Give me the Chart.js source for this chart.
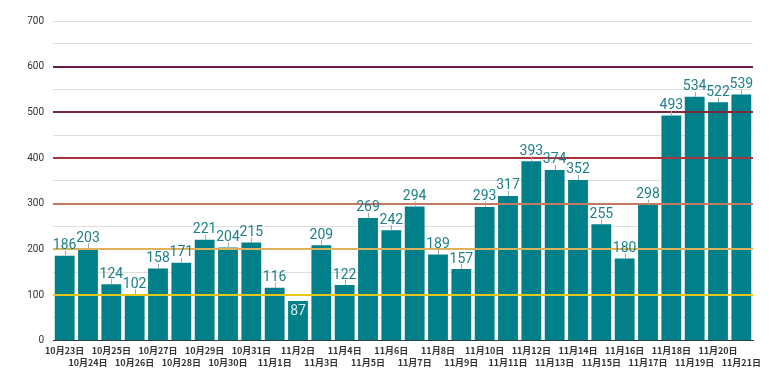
<!DOCTYPE html>
<html>
<head>
<meta charset="utf-8">
<script src="https://cdn.jsdelivr.net/npm/chart.js@4/dist/chart.umd.min.js"></script>
<style>
  html, body { margin: 0; padding: 0; background: #fff; }
  #wrap { width: 780px; height: 390px; }
</style>
</head>
<body>
<div id="wrap"><canvas id="chart"></canvas></div>
<script>
// days shown on the x axis
var days = [
  '10月23日', '10月24日', '10月25日', '10月26日', '10月27日', '10月28日',
  '10月29日', '10月30日', '10月31日', '11月1日', '11月2日', '11月3日',
  '11月4日', '11月5日', '11月6日', '11月7日', '11月8日', '11月9日',
  '11月10日', '11月11日', '11月12日', '11月13日', '11月14日', '11月15日',
  '11月16日', '11月17日', '11月18日', '11月19日', '11月20日', '11月21日'
];
var counts = [
  186, 203, 124, 102, 158, 171,
  221, 204, 215, 116, 87, 209,
  122, 269, 242, 294, 189, 157,
  293, 317, 393, 374, 352, 255,
  180, 298, 493, 534, 522, 539
];
var yTicks = [0, 100, 200, 300, 400, 500, 600, 700];
var levels = [100, 200, 300, 400, 500, 600];
var levelColors = ['#e3c51e', '#ddb25a', '#c47a62', '#a8343f', '#7c2838', '#6a1d4a'];

var barColor = '#02808a';
var labelColor = '#1d8088';

// coloured level lines go over the bars, then the value labels
var overlay = {
  id: 'overlay',
  afterDatasetsDraw: function(chart) {
    var ctx = chart.ctx;
    var area = chart.chartArea;
    var y = chart.scales.y;
    ctx.save();
    ctx.lineWidth = 2;
    for (var i = 0; i < levels.length; i++) {
      var py = Math.round(y.getPixelForValue(levels[i]));
      ctx.strokeStyle = levelColors[i];
      ctx.beginPath();
      ctx.moveTo(area.left, py);
      ctx.lineTo(area.right, py);
      ctx.stroke();
    }

    var meta = chart.getDatasetMeta(0);
    ctx.font = '14px Roboto';
    ctx.textAlign = 'center';
    ctx.textBaseline = 'bottom';
    meta.data.forEach(function(bar, j) {
      var v = counts[j];
      if (v < 100) {
        ctx.fillStyle = '#d6eced';
        ctx.textBaseline = 'top';
        ctx.fillText(String(v), bar.x, bar.y + 3);
        ctx.textBaseline = 'bottom';
        return;
      }
      ctx.strokeStyle = '#9aa';
      ctx.lineWidth = 1;
      ctx.beginPath();
      ctx.moveTo(Math.round(bar.x) + 0.5, bar.y);
      ctx.lineTo(Math.round(bar.x) + 0.5, bar.y - 5);
      ctx.stroke();
      ctx.fillStyle = labelColor;
      ctx.fillText(String(v), bar.x, bar.y - 3);
    });
    ctx.restore();
  }
};

new Chart(document.getElementById('chart'), {
  type: 'bar',
  data: {
    labels: days,
    datasets: [{
      data: counts,
      backgroundColor: barColor,
      barPercentage: 0.85,
      categoryPercentage: 1
    }]
  },
  options: {
    responsive: true,
    maintainAspectRatio: false,
    animation: false,
    layout: { padding: { top: 21, right: 27, bottom: 18, left: 0 } },
    plugins: {
      legend: { display: false },
      tooltip: { enabled: false }
    },
    scales: {
      x: {
        grid: { display: false, drawTicks: false },
        border: { color: '#333', width: 1 },
        ticks: {
          autoSkip: false,
          maxRotation: 0,
          padding: 3,
          color: '#333',
          font: { family: '"Noto Sans CJK JP"', size: 9, weight: 'bold', lineHeight: 1.4 },
          callback: function(val, idx) {
            return idx % 2 === 0 ? [days[idx], ''] : ['', days[idx]];
          }
        }
      },
      y: {
        min: 0,
        max: 700,
        afterFit: function(scale) { scale.width = 53; },
        border: { display: false },
        grid: {
          drawTicks: false,
          color: function(c) {
            var v = c.tick.value;
            if (v === 0 || levels.indexOf(v) >= 0) return 'rgba(0,0,0,0)';
            return '#dedede';
          }
        },
        ticks: {
          stepSize: 50,
          padding: 9,
          color: '#333',
          font: { family: 'Roboto', size: 10 },
          callback: function(v) {
            return yTicks.indexOf(v) >= 0 ? v : '';
          }
        }
      }
    }
  },
  plugins: [overlay]
});
</script>
</body>
</html>
